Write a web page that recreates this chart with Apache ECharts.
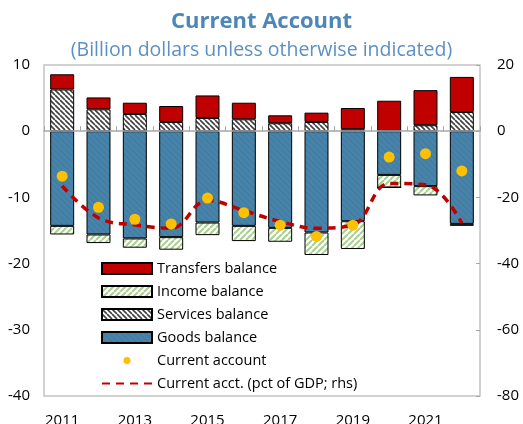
<!DOCTYPE html>
<html>
<head>
<meta charset="utf-8">
<script src="https://cdn.jsdelivr.net/npm/echarts@6/dist/echarts.min.js"></script>
<style>
  html, body { margin: 0; padding: 0; background: #fff; }
  #chart { width: 523px; height: 424px; }
</style>
</head>
<body>
<div id="chart"></div>
<script>
const years = ["2011", "2012", "2013", "2014", "2015", "2016", "2017", "2018", "2019", "2020", "2021", "2022"];
const goods = [-14.3, -15.6, -16.2, -16.0, -13.8, -14.3, -14.6, -15.3, -13.6, -6.6, -8.3, -14.0];
const income = [-1.3, -1.3, -1.4, -1.9, -1.9, -2.3, -2.1, -3.4, -4.2, -1.9, -1.4, -0.3];
const services = [6.3, 3.3, 2.6, 1.4, 2.0, 1.8, 1.2, 1.4, 0.3, 0, 0.9, 2.9];
const transfers = [2.3, 1.8, 1.7, 2.4, 3.4, 2.5, 1.2, 1.4, 3.2, 4.6, 5.3, 5.3];
const currentAccount = [-6.8, -11.5, -13.3, -14.0, -10.1, -12.3, -14.2, -15.9, -14.2, -3.9, -3.4, -6.0];
const caPctGdp = [-16.5, -26.2, -28.3, -29.3, -20.9, -24.0, -27.3, -29.3, -28.3, -15.8, -16.2, -27.8];

// hatch fills for the bars
function hatch(bg, fg, size, width, back) {
  const c = document.createElement("canvas");
  c.width = size;
  c.height = size;
  const ctx = c.getContext("2d");
  ctx.fillStyle = bg;
  ctx.fillRect(0, 0, size, size);
  ctx.strokeStyle = fg;
  ctx.lineWidth = width;
  ctx.beginPath();
  for (let k = -1; k <= 1; k++) {
    if (back) {
      ctx.moveTo(k * size, 0);
      ctx.lineTo(k * size + size, size);
    } else {
      ctx.moveTo(k * size + size, 0);
      ctx.lineTo(k * size, size);
    }
  }
  ctx.stroke();
  return { image: c, repeat: "repeat" };
}

const goodsFill = hatch("#4884aa", "#427ca2", 6, 1.5, true);
const incomeFill = hatch("#ffffff", "#a9d08e", 6, 2, false);
const servicesFill = hatch("#ffffff", "#404040", 5, 1.6, true);

const chart = echarts.init(document.getElementById("chart"));
const font = "'Open Sans', sans-serif";

const barStyle = (color) => ({ color: color, borderColor: "#000", borderWidth: 1 });

// small dot for the legend, padded by two move-to points
const smallDot = "path://M0,0 M14,14 M7,2.5 A4.5,4.5 0 1 1 7,11.5 A4.5,4.5 0 1 1 7,2.5 Z";

const option = {
  animation: false,
  textStyle: { fontFamily: font },
  title: {
    text: "Current Account",
    subtext: "(Billion dollars unless otherwise indicated)",
    left: "center",
    top: 6,
    itemGap: 7,
    textStyle: { fontFamily: font, fontSize: 22, fontWeight: "bold", color: "#4d86b8" },
    subtextStyle: { fontFamily: font, fontSize: 19.5, color: "#5b90c4" },
  },
  legend: {
    orient: "vertical",
    left: 96,
    top: 256,
    itemWidth: 50,
    itemHeight: 11,
    itemGap: 8,
    textStyle: { fontFamily: font, fontSize: 14.5, color: "#000" },
    data: [
      { name: "Transfers balance", icon: "rect" },
      { name: "Income balance", icon: "rect" },
      { name: "Services balance", icon: "rect" },
      { name: "Goods balance", icon: "rect" },
      { name: "Current account", icon: smallDot },
      { name: "Current acct. (pct of GDP; rhs)", itemStyle: { opacity: 0 } },
    ],
  },
  grid: {
    left: 44,
    right: 43,
    top: 65,
    bottom: 28,
    outerBoundsMode: "none",
    show: true,
    borderColor: "#c4c4c4",
    borderWidth: 1.5,
  },
  xAxis: [
    {
      type: "category",
      data: years,
      position: "bottom",
      axisLine: { onZero: true, lineStyle: { color: "#a6a6a6", width: 1.5 } },
      axisTick: { show: true, inside: true, length: 5, lineStyle: { color: "#a6a6a6" } },
      axisLabel: { show: false },
      z: 5,
    },
    {
      type: "category",
      data: years,
      position: "bottom",
      axisLine: { show: false, onZero: false },
      axisTick: { show: false },
      axisLabel: { interval: 1, fontSize: 15, color: "#000", margin: 17 },
    },
  ],
  yAxis: [
    {
      type: "value",
      min: -40,
      max: 10,
      interval: 10,
      position: "left",
      splitLine: { show: false },
      axisLine: { show: false },
      axisTick: { show: false },
      axisLabel: { fontSize: 15, color: "#000", margin: 14 },
    },
    {
      type: "value",
      min: -80,
      max: 20,
      interval: 20,
      position: "right",
      splitLine: { show: false },
      axisLine: { show: false },
      axisTick: { show: true, inside: true, length: 4, lineStyle: { color: "#a6a6a6" } },
      axisLabel: { fontSize: 15, color: "#000", margin: 17 },
    },
  ],
  series: [
    {
      name: "Goods balance",
      type: "bar",
      stack: "bop",
      barWidth: "66%",
      itemStyle: barStyle(goodsFill),
      data: goods,
    },
    {
      name: "Income balance",
      type: "bar",
      stack: "bop",
      itemStyle: barStyle(incomeFill),
      data: income,
    },
    {
      name: "Services balance",
      type: "bar",
      stack: "bop",
      itemStyle: barStyle(servicesFill),
      data: services,
    },
    {
      name: "Transfers balance",
      type: "bar",
      stack: "bop",
      itemStyle: barStyle("#c00000"),
      data: transfers,
    },
    {
      name: "Current acct. (pct of GDP; rhs)",
      type: "line",
      yAxisIndex: 1,
      smooth: 0.4,
      symbol: "none",
      lineStyle: { color: "#c00000", width: 3.5, type: [8, 6] },
      itemStyle: { color: "#c00000" },
      z: 3,
      data: caPctGdp,
    },
    {
      name: "Current account",
      type: "scatter",
      symbolSize: 11,
      itemStyle: { color: "#ffc000", opacity: 1 },
      z: 4,
      data: currentAccount,
    },
  ],
};

option && chart.setOption(option);
</script>
</body>
</html>
